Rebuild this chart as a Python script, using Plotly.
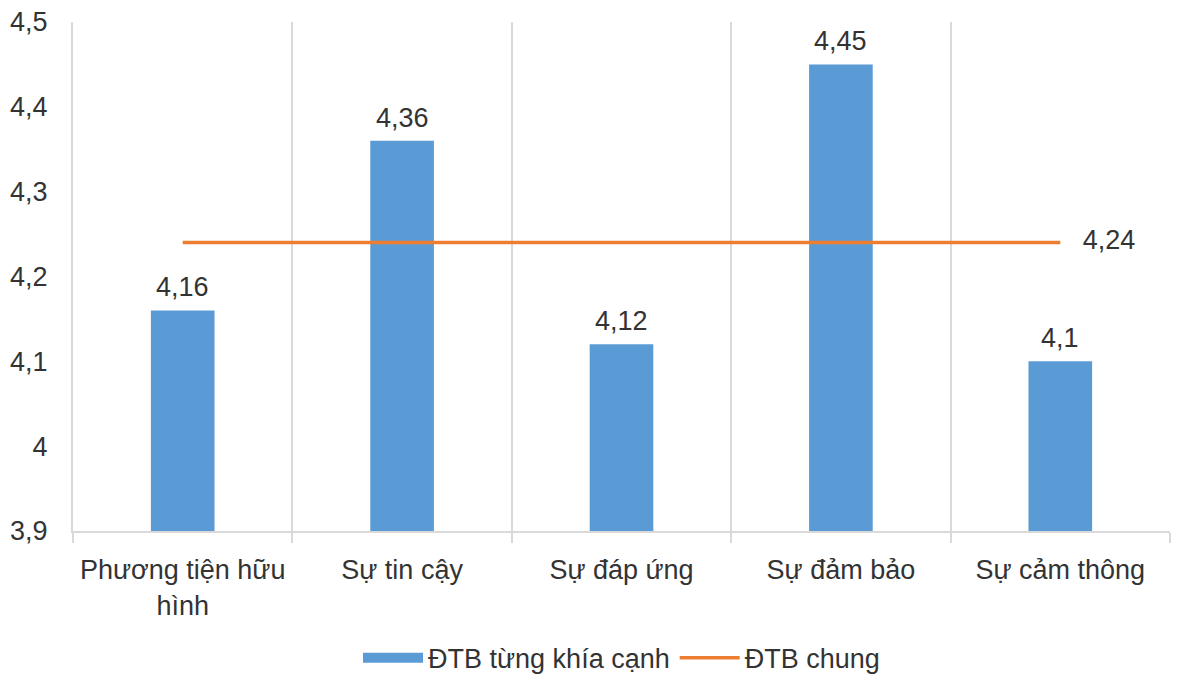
import plotly.graph_objects as go

categories = ["Phương tiện hữu<br>hình", "Sự tin cậy", "Sự đáp ứng", "Sự đảm bảo", "Sự cảm thông"]
bar_values = [4.16, 4.36, 4.12, 4.45, 4.10]
overall_value = 4.24
bar_name = "ĐTB từng khía cạnh"
line_name = "ĐTB chung"
y_ticks = [3.9, 4.0, 4.1, 4.2, 4.3, 4.4, 4.5]

def fmt(v):
    s = ("%.2f" % v).rstrip("0").rstrip(".")
    return s.replace(".", ",")

FONT = "Liberation Sans, Arial, sans-serif"
TXT = "#333333"
GRID = "#D9D9D9"
FS = 27

fig = go.Figure()
fig.add_trace(go.Bar(
    x=categories, y=bar_values, name=bar_name,
    marker=dict(color="#5B9BD5", line=dict(width=0)),
    width=0.29, showlegend=False,
))
# legend swatch for bars (wide rectangle like the reference)
fig.add_trace(go.Scatter(
    x=[None], y=[None], mode="lines", name=bar_name,
    line=dict(color="#5B9BD5", width=14),
))
line_y = [overall_value] * len(categories)
line_text = [""] * (len(categories) - 1) + ["   " + fmt(overall_value)]
fig.add_trace(go.Scatter(
    x=categories, y=line_y, name=line_name, mode="lines+text",
    line=dict(color="#ED7D31", width=3.5),
    text=line_text, textposition="middle right",
    textfont=dict(size=FS, color=TXT, family=FONT),
    cliponaxis=False,
))

for c, v in zip(categories, bar_values):
    fig.add_annotation(x=c, y=v, text=fmt(v), showarrow=False,
                       yanchor="bottom", yshift=6,
                       font=dict(size=FS, color=TXT, family=FONT))

# page body has an 8px default margin; size the figure to fit the 1192x677 window
fig.update_layout(
    width=1184, height=669,
    margin=dict(l=65, r=22, t=14, b=146, autoexpand=False),
    paper_bgcolor="white", plot_bgcolor="white",
    separators=",.",
    font=dict(family=FONT, size=FS, color=TXT),
    showlegend=True,
    legend=dict(orientation="h", x=0.5, xanchor="center", y=-0.25, yanchor="middle",
                font=dict(size=FS, color=TXT), itemwidth=60, traceorder="normal"),
    xaxis=dict(
        type="category", tickson="boundaries", showgrid=True, gridcolor=GRID, gridwidth=2,
        showline=True, linecolor=GRID, linewidth=2,
        ticks="outside", ticklen=10, tickcolor=GRID, tickwidth=2,
        tickfont=dict(size=FS, color=TXT), range=[-0.5, 4.5],
        automargin=False, ticklabelstandoff=14,
    ),
    yaxis=dict(
        range=[3.9, 4.5], tickvals=y_ticks, ticktext=[fmt(v) for v in y_ticks],
        showgrid=False, zeroline=False, showline=True, linecolor=GRID, linewidth=2,
        ticks="", tickfont=dict(size=FS, color=TXT), ticklabelstandoff=18,
        ticklabeloverflow="allow", automargin=False,
    ),
)

fig.write_html("out.html")
